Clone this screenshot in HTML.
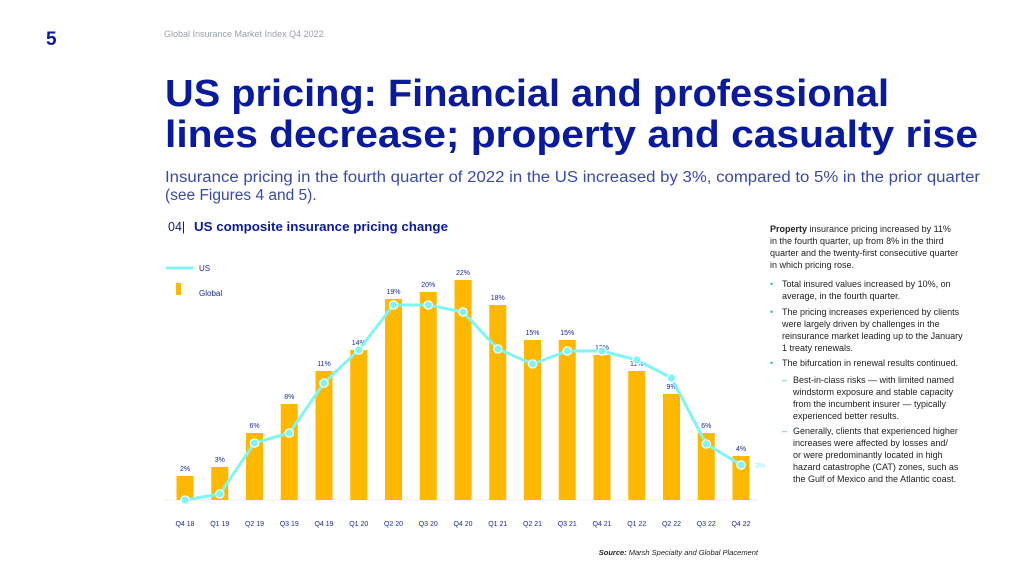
<!DOCTYPE html>
<html><head><meta charset="utf-8"><style>
html,body{margin:0;padding:0;background:#fff;}
svg{display:block;font-family:"Liberation Sans",sans-serif;}
</style></head><body>
<svg width="1024" height="576" viewBox="0 0 1024 576">
<text x="46" y="45" font-size="19" font-weight="bold" fill="#0a1a9c">5</text>
<text x="164" y="37" font-size="9" fill="#9aa0a8">Global Insurance Market Index Q4 2022</text>
<text x="165" y="106" font-size="38" font-weight="bold" fill="#0a1a9c" textLength="724" lengthAdjust="spacingAndGlyphs">US pricing: Financial and professional</text>
<text x="165" y="147" font-size="38" font-weight="bold" fill="#0a1a9c" textLength="813" lengthAdjust="spacingAndGlyphs">lines decrease; property and casualty rise</text>
<text x="165" y="182" font-size="15.5" fill="#3949a8" textLength="815" lengthAdjust="spacingAndGlyphs">Insurance pricing in the fourth quarter of 2022 in the US increased by 3%, compared to 5% in the prior quarter</text>
<text x="165" y="200" font-size="15.5" fill="#3949a8">(see Figures 4 and 5).</text>
<text x="168" y="231" font-size="12.5" fill="#0a1a9c">04|</text>
<text x="194" y="231" font-size="12.5" font-weight="bold" fill="#0a1a9c" textLength="254" lengthAdjust="spacingAndGlyphs">US composite insurance pricing change</text>

<g>
<line x1="166" y1="268" x2="193" y2="268" stroke="#7ff5f5" stroke-width="3"/>
<text x="199" y="271" font-size="8" fill="#1a2aa0">US</text>
<rect x="176" y="283" width="5" height="12" fill="#ffb800"/>
<text x="199" y="296" font-size="8" fill="#1a2aa0">Global</text>
</g>
<line x1="165" y1="500" x2="758" y2="500" stroke="#eeeeee" stroke-width="1"/>
<g id="chart"></g>

<g font-size="9" fill="#222">
<text x="770" y="232"><tspan font-weight="bold">Property</tspan> insurance pricing increased by 11%</text>
<text x="770" y="244">in the fourth quarter, up from 8% in the third</text>
<text x="770" y="256">quarter and the twenty-first consecutive quarter</text>
<text x="770" y="268">in which pricing rose.</text>
<text x="770" y="287" fill="#2ec27e">•</text>
<text x="782" y="287">Total insured values increased by 10%, on</text>
<text x="782" y="299">average, in the fourth quarter.</text>
<text x="770" y="315" fill="#2ec27e">•</text>
<text x="782" y="315">The pricing increases experienced by clients</text>
<text x="782" y="327">were largely driven by challenges in the</text>
<text x="782" y="339">reinsurance market leading up to the January</text>
<text x="782" y="351">1 treaty renewals.</text>
<text x="770" y="366" fill="#2ec27e">•</text>
<text x="782" y="366">The bifurcation in renewal results continued.</text>
<text x="782" y="383" fill="#2ec27e">–</text>
<text x="793" y="383">Best-in-class risks — with limited named</text>
<text x="793" y="395">windstorm exposure and stable capacity</text>
<text x="793" y="407">from the incumbent insurer — typically</text>
<text x="793" y="419">experienced better results.</text>
<text x="782" y="434" fill="#2ec27e">–</text>
<text x="793" y="434">Generally, clients that experienced higher</text>
<text x="793" y="446">increases were affected by losses and/</text>
<text x="793" y="458">or were predominantly located in high</text>
<text x="793" y="470">hazard catastrophe (CAT) zones, such as</text>
<text x="793" y="482">the Gulf of Mexico and the Atlantic coast.</text>
</g>
<text x="758" y="555" font-size="7.5" font-style="italic" fill="#222" text-anchor="end"><tspan font-weight="bold">Source:</tspan> Marsh Specialty and Global Placement</text>
</svg>
<script>
const categories = ["Q4 18","Q1 19","Q2 19","Q3 19","Q4 19","Q1 20","Q2 20","Q3 20","Q4 20","Q1 21","Q2 21","Q3 21","Q4 21","Q1 22","Q2 22","Q3 22","Q4 22"];
const globalValues = [2.4,3.3,6.7,9.6,12.9,15,20.1,20.8,22,19.5,16,16,14.5,12.9,10.6,6.7,4.4];
const globalLabels = ["2%","3%","6%","8%","11%","14%","19%","20%","22%","18%","15%","15%","13%","11%","9%","6%","4%"];
const usValues = [0,0.6,5.7,6.7,11.7,15,19.5,19.5,18.8,15.1,13.6,14.9,14.9,14,12.2,5.6,3.5];
const usLastLabel = "3%";
const NS = "http://www.w3.org/2000/svg";
const g = document.getElementById('chart');
function xPos(i){ return 185 + i * 34.75; }
function yPos(v){ return 500 - v * 10; }
function mk(tag, attrs){ const e = document.createElementNS(NS, tag); for (const k in attrs) e.setAttribute(k, attrs[k]); g.appendChild(e); return e; }
categories.forEach((c, i) => {
  const b = mk('rect', {x: xPos(i) - 8.5, y: yPos(globalValues[i]), width: 17, height: 500 - yPos(globalValues[i]), fill: '#ffb800'});
  
  
  const t = mk('text', {x: xPos(i), y: yPos(globalValues[i]) - 5, 'font-size': 7, fill: '#1a2aa0', 'text-anchor': 'middle'});
  t.textContent = globalLabels[i];
  
  
  const xl = mk('text', {x: xPos(i), y: 526, 'font-size': 7, fill: '#1a2aa0', 'text-anchor': 'middle'});
  xl.textContent = c;
  
  
});
const pts = usValues.map((v, i) => xPos(i) + ',' + yPos(v)).join(' ');
const line = mk('polyline', {points: pts, fill: 'none', stroke: '#7ff5f5', 'stroke-width': 3, 'stroke-linejoin': 'round'});


usValues.forEach((v, i) => {
  const p = mk('circle', {cx: xPos(i), cy: yPos(v), r: 4.2, fill: '#7ff5f5', stroke: '#fff', 'stroke-width': 1.2});
  
  
});
const last = usValues.length - 1;
const ll = mk('text', {x: xPos(last) + 14, y: yPos(usValues[last]) + 3, 'font-size': 7, fill: '#7ff5f5'});
ll.textContent = usLastLabel;


</script>
</body></html>
